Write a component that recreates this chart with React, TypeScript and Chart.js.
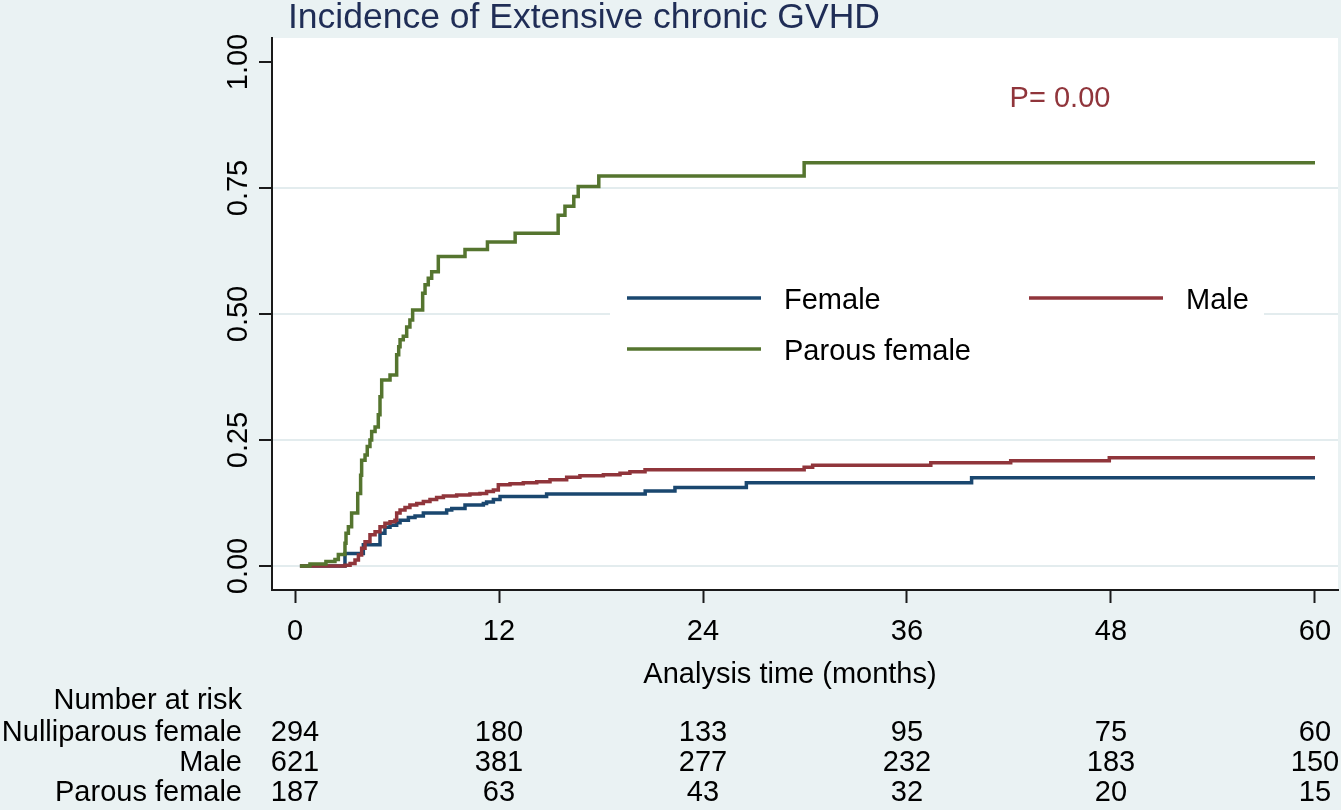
import React, { useEffect, useRef } from "react";
import { Chart, registerables } from "chart.js";

Chart.register(...registerables);

// ---------- data ----------
const xTicks = [0, 12, 24, 36, 48, 60];
const yTicks = [0, 0.25, 0.5, 0.75, 1];
const yTickLabels = ["0.00", "0.25", "0.50", "0.75", "1.00"];

const femaleTimes = [0.29, 2.94, 4.02, 5.0, 5.29, 5.59, 5.98, 6.18, 6.67, 7.06, 7.55, 8.92, 9.22, 10.0, 11.08, 11.27, 11.67, 12.06, 14.8, 20.6, 22.35, 26.55, 39.8, 60];
const femaleValues = [0, 0.025, 0.042, 0.065, 0.077, 0.081, 0.086, 0.091, 0.096, 0.099, 0.105, 0.111, 0.114, 0.121, 0.124, 0.127, 0.132, 0.138, 0.143, 0.149, 0.156, 0.165, 0.175, 0.175];

const maleTimes = [0.29, 2.94, 3.24, 3.53, 3.73, 3.92, 4.12, 4.41, 4.71, 5.0, 5.29, 5.59, 5.88, 5.98, 6.18, 6.47, 6.76, 7.16, 7.55, 7.94, 8.33, 8.73, 9.51, 10.29, 10.88, 11.27, 11.67, 11.96, 12.65, 13.43, 14.22, 15.0, 15.98, 16.76, 18.14, 19.12, 19.7, 20.59, 29.95, 30.45, 37.4, 42.1, 47.9, 60];
const maleValues = [0, 0.0013, 0.005, 0.012, 0.022, 0.035, 0.048, 0.062, 0.068, 0.078, 0.085, 0.088, 0.091, 0.105, 0.111, 0.116, 0.121, 0.124, 0.128, 0.132, 0.136, 0.139, 0.141, 0.143, 0.144, 0.148, 0.151, 0.161, 0.163, 0.165, 0.167, 0.171, 0.176, 0.179, 0.181, 0.184, 0.187, 0.191, 0.196, 0.2, 0.205, 0.209, 0.215, 0.215];

const parousTimes = [0.29, 0.88, 1.82, 2.35, 2.55, 2.94, 3.0, 3.14, 3.33, 3.69, 3.86, 3.92, 4.12, 4.25, 4.41, 4.51, 4.71, 4.9, 5.0, 5.1, 5.59, 5.98, 6.1, 6.18, 6.37, 6.57, 6.76, 6.92, 7.51, 7.65, 7.84, 8.04, 8.43, 10.0, 11.32, 12.95, 15.48, 15.88, 16.4, 16.66, 17.87, 29.95, 60];
const parousValues = [0, 0.004, 0.009, 0.013, 0.023, 0.045, 0.065, 0.078, 0.105, 0.144, 0.18, 0.21, 0.22, 0.237, 0.25, 0.267, 0.276, 0.3, 0.336, 0.369, 0.379, 0.419, 0.435, 0.449, 0.456, 0.474, 0.488, 0.508, 0.541, 0.558, 0.571, 0.584, 0.614, 0.628, 0.643, 0.66, 0.696, 0.714, 0.733, 0.753, 0.774, 0.8, 0.8];

const legendLabels = ["Female", "Male", "Parous female"];
const riskGroups = ["Nulliparous female", "Male", "Parous female"];
const riskNulliparous = [294, 180, 133, 95, 75, 60];
const riskMale = [621, 381, 277, 232, 183, 150];
const riskParous = [187, 63, 43, 32, 20, 15];

const titleText = "Incidence of Extensive chronic GVHD";
const xAxisTitle = "Analysis time (months)";
const riskTitle = "Number at risk";
const pValueText = "P= 0.00";
const pValueX = 45;
const pValueY = 0.93;

// ---------- styles ----------
const NAVY = "#1A476F";
const MAROON = "#90353B";
const GREEN = "#55752F";
const BG = "#EAF2F3";
const GRID = "#E3ECEE";
const AXIS = "#1a1a1a";
const FONT = '"Liberation Sans", Arial, Helvetica, sans-serif';
const LINE_W = 3.5;

const toPoints = (t: number[], v: number[]) => t.map((x, i) => ({ x, y: v[i] }));

const overlayPlugin = {
  id: "overlay",
  beforeDraw(chart: any) {
    const { ctx, chartArea: a, width, height } = chart;
    ctx.save();
    ctx.fillStyle = BG;
    ctx.fillRect(0, 0, width, height);
    ctx.fillStyle = "#ffffff";
    ctx.fillRect(a.left, a.top, a.right - a.left, a.bottom - a.top);
    ctx.restore();
  },
  beforeDatasetsDraw(chart: any) {
    const { ctx } = chart;
    ctx.save();
    // legend box
    ctx.fillStyle = "#ffffff";
    ctx.fillRect(610, 272, 654, 106);
    const items = [
      { color: NAVY, x: 627, y: 298, label: legendLabels[0] },
      { color: MAROON, x: 1029, y: 298, label: legendLabels[1] },
      { color: GREEN, x: 627, y: 349, label: legendLabels[2] },
    ];
    ctx.font = `29px ${FONT}`;
    ctx.textAlign = "left";
    ctx.textBaseline = "alphabetic";
    items.forEach((it) => {
      ctx.strokeStyle = it.color;
      ctx.lineWidth = LINE_W;
      ctx.beginPath();
      ctx.moveTo(it.x, it.y);
      ctx.lineTo(it.x + 134, it.y);
      ctx.stroke();
      ctx.fillStyle = "#000";
      ctx.fillText(it.label, it.x + 157, it.y + 11);
    });
    ctx.restore();
  },
  afterDraw(chart: any) {
    const { ctx, scales } = chart;
    const xs = scales.x;
    const ys = scales.y;
    ctx.save();
    // title
    ctx.fillStyle = "#1F2D56";
    ctx.font = `35.5px ${FONT}`;
    ctx.textAlign = "left";
    ctx.textBaseline = "alphabetic";
    ctx.fillText(titleText, 288, 28);

    // y tick labels (rotated)
    ctx.fillStyle = "#000";
    ctx.font = `29px ${FONT}`;
    yTicks.forEach((v, i) => {
      const py = ys.getPixelForValue(v);
      ctx.save();
      ctx.translate(247, py);
      ctx.rotate(-Math.PI / 2);
      ctx.textAlign = "center";
      ctx.textBaseline = "alphabetic";
      ctx.fillText(yTickLabels[i], 0, 0);
      ctx.restore();
    });

    // x tick labels
    ctx.textAlign = "center";
    xTicks.forEach((v) => {
      ctx.fillText(String(v), xs.getPixelForValue(v), 640);
    });
    // x axis title
    ctx.fillText(xAxisTitle, 790, 683);

    // p value
    ctx.fillStyle = MAROON;
    ctx.fillText(pValueText, xs.getPixelForValue(pValueX), ys.getPixelForValue(pValueY) + 10);

    // number at risk table
    ctx.fillStyle = "#000";
    ctx.textAlign = "right";
    ctx.fillText(riskTitle, 242, 709);
    const rows = [riskNulliparous, riskMale, riskParous];
    const baselines = [741, 771, 801];
    rows.forEach((row, r) => {
      ctx.textAlign = "right";
      ctx.fillText(riskGroups[r], 242, baselines[r]);
      ctx.textAlign = "center";
      row.forEach((n, i) => {
        ctx.fillText(String(n), xs.getPixelForValue(xTicks[i]), baselines[r]);
      });
    });
    ctx.restore();
  },
};

export default function App() {
  const canvasRef = useRef<HTMLCanvasElement | null>(null);

  useEffect(() => {
    document.body.style.margin = "0";
    const canvas = canvasRef.current;
    if (!canvas) return;
    const chart = new Chart(canvas, {
      type: "line",
      data: {
        datasets: [
          {
            label: legendLabels[2],
            data: toPoints(parousTimes, parousValues),
            borderColor: GREEN,
            borderWidth: LINE_W,
            stepped: "before",
            pointRadius: 0,
            fill: false,
            order: 1,
          },
          {
            label: legendLabels[1],
            data: toPoints(maleTimes, maleValues),
            borderColor: MAROON,
            borderWidth: LINE_W,
            stepped: "before",
            pointRadius: 0,
            fill: false,
            order: 2,
          },
          {
            label: legendLabels[0],
            data: toPoints(femaleTimes, femaleValues),
            borderColor: NAVY,
            borderWidth: LINE_W,
            stepped: "before",
            pointRadius: 0,
            fill: false,
            order: 3,
          },
        ],
      },
      options: {
        responsive: false,
        animation: false,
        layout: { padding: { left: 0, top: 38, right: 3, bottom: 220 } },
        plugins: {
          legend: { display: false },
          tooltip: { enabled: false },
          title: { display: false },
        },
        scales: {
          x: {
            type: "linear",
            min: -1.353,
            max: 61.353,
            afterBuildTicks: (s: any) => {
              s.ticks = xTicks.map((v) => ({ value: v }));
            },
            afterFit: (s: any) => {
              s.height = 0;
            },
            ticks: { display: false },
            grid: {
              drawOnChartArea: false,
              drawTicks: true,
              tickLength: 13,
              tickColor: AXIS,
              tickWidth: 2,
            },
            border: { display: true, color: AXIS, width: 2 },
          },
          y: {
            type: "linear",
            min: -0.0476,
            max: 1.0476,
            afterBuildTicks: (s: any) => {
              s.ticks = yTicks.map((v) => ({ value: v }));
            },
            afterFit: (s: any) => {
              s.width = 272;
            },
            ticks: { display: false },
            grid: {
              color: (c: any) => (c.tick && c.tick.value >= 1 ? "rgba(0,0,0,0)" : GRID),
              lineWidth: 2,
              drawTicks: true,
              tickLength: 13,
              tickColor: AXIS,
              tickWidth: 2,
            },
            border: { display: true, color: AXIS, width: 2 },
          },
        },
      },
      plugins: [overlayPlugin],
    } as any);
    return () => chart.destroy();
  }, []);

  return (
    <div style={{ width: 1341, height: 810, position: "relative", background: BG }}>
      <canvas ref={canvasRef} width={1341} height={810} style={{ display: "block" }} />
    </div>
  );
}
